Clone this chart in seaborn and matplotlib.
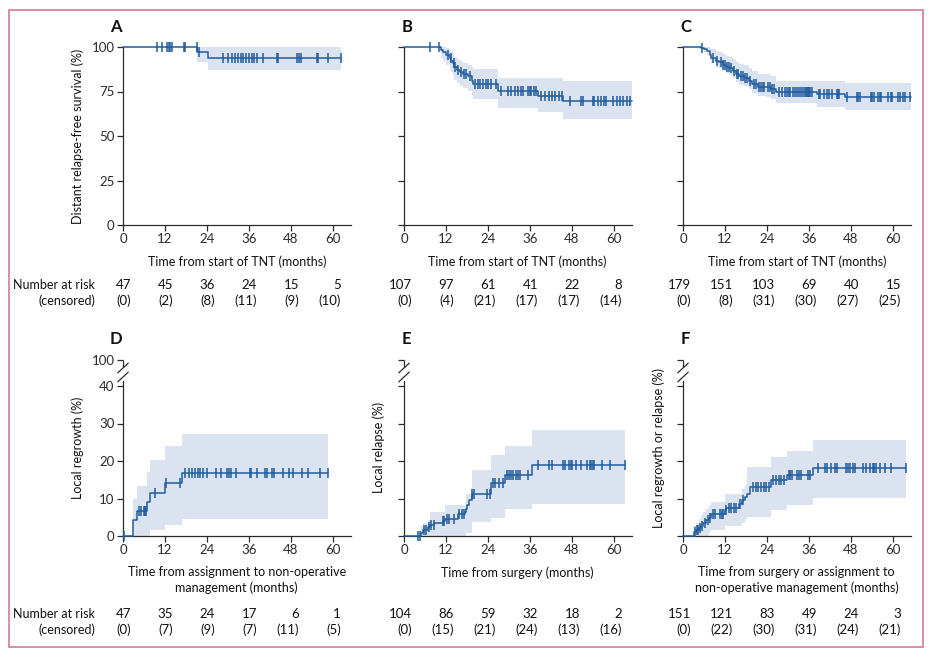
import numpy as np
import matplotlib
matplotlib.use("Agg")
import matplotlib.pyplot as plt
import matplotlib.transforms as mtransforms
from matplotlib.patches import Rectangle
import seaborn as sns

# ---------------- data ----------------
x_ticks = [0, 12, 24, 36, 48, 60]

# A: distant relapse-free survival
A_t = [0, 21.2, 24.4]
A_s = [100, 97.4, 94.0]
A_lo = [100, 91.7, 87.0]
A_hi = [100, 100, 100]
A_end = 62.3
A_cens = [9.6, 11.2, 12.5, 13.0, 13.4, 14.1, 17.3, 17.6, 21.0, 21.6,
          28.7, 29.9, 31.2, 32.0, 32.8, 33.6, 34.4, 35.1, 36.0, 36.8, 37.4,
          38.4, 40.1, 44.1, 44.4, 49.6, 50.3, 50.8, 55.3, 55.8, 58.7, 62.3]
A_risk = ["47", "45", "36", "24", "15", "5"]
A_cnsr = ["(0)", "(2)", "(8)", "(11)", "(9)", "(10)"]

# B
B_t = [0, 10.5, 11.2, 12.0, 13.0, 13.5, 14.0, 14.4, 15.2, 15.9, 16.9, 18.3, 19.3, 19.8, 26.8, 38.3, 45.5]
B_s = [100, 98.1, 97.2, 95.3, 93.8, 92.4, 91.1, 88.6, 87.1, 85.8, 84.8, 83.5, 81.1, 79.2, 75.5, 72.5, 69.8]
B_lo = [100, 94.0, 92.0, 90.0, 88.0, 86.0, 84.5, 81.5, 80.0, 78.0, 77.0, 75.5, 73.0, 71.0, 66.0, 63.3, 59.7]
B_hi = [100, 100, 100, 99.5, 98.5, 97.5, 96.5, 94.5, 93.5, 92.0, 91.0, 90.0, 88.5, 87.5, 82.7, 82.7, 81.0]
B_end = 65.0
B_cens = [7.4, 10.0, 12.5, 13.3, 14.2, 14.7, 15.5, 16.3, 17.0, 17.6, 18.8,
          20.3, 21.0, 21.8, 22.5, 23.3, 24.0, 24.8, 26.2,
          27.8, 29.8, 30.7, 31.8, 32.7, 33.5, 34.1, 35.4, 35.9, 36.4, 37.1, 37.6,
          39.1, 40.3, 41.3, 42.2, 43.2, 44.2, 45.2,
          47.3, 50.7, 51.2, 54.0, 54.4, 55.4, 56.2, 57.2, 57.6, 59.8, 60.8, 61.8, 62.7, 63.7, 64.7]
B_risk = ["107", "97", "61", "41", "22", "8"]
B_cnsr = ["(0)", "(4)", "(21)", "(17)", "(17)", "(14)"]

# C
C_t = [0, 5.0, 6.1, 6.8, 7.6, 8.1, 9.5, 10.4, 11.3, 12.3, 13.2, 14.2, 15.1, 16.1, 17.5, 18.9,
       19.8, 21.3, 23.6, 25.0, 26.5, 38.3, 46.3]
C_s = [100, 99.5, 99.0, 97.7, 95.3, 94.1, 92.4, 91.5, 90.0, 89.0, 88.1, 86.7, 84.8, 83.5, 82.8, 81.1,
       79.2, 77.8, 77.3, 76.3, 74.8, 73.6, 72.0]
C_lo = [100, 98.5, 97.3, 95.5, 92.5, 91.2, 89.0, 88.0, 86.3, 85.2, 84.0, 82.4, 80.4, 78.9, 78.0, 76.2,
        74.0, 72.5, 71.8, 70.6, 68.4, 66.5, 64.4]
C_hi = [100, 100, 100, 100, 99.3, 98.8, 97.6, 97.0, 95.8, 95.0, 94.2, 93.0, 91.5, 90.5, 89.8, 88.3,
        86.6, 85.0, 84.6, 83.8, 81.0, 80.7, 79.7]
C_end = 65.0
C_cens = [5.4, 8.5, 9.8, 10.8, 11.5, 12.0, 12.6, 13.0, 13.6, 14.5, 15.5, 15.8, 16.5, 17.0, 17.8,
          18.3, 19.2, 20.2, 20.8, 21.8, 22.3, 22.8, 23.2, 24.2, 24.8, 25.5, 26.0,
          27.4, 28.4, 29.0, 29.8, 30.2, 30.7, 31.4, 31.9, 32.6, 33.1, 33.8, 34.3, 34.8, 35.2,
          35.4, 35.7, 36.1, 36.4, 36.9,
          38.8, 39.2, 40.4, 41.1, 41.8, 42.5, 44.0, 44.4, 44.7,
          46.8, 49.8, 50.1, 50.6, 53.6, 54.0, 54.5, 55.8, 56.2, 56.7, 58.6, 59.3, 59.7,
          61.4, 62.1, 62.9, 63.5, 64.9]
C_risk = ["179", "151", "103", "69", "40", "15"]
C_cnsr = ["(0)", "(8)", "(31)", "(30)", "(27)", "(25)"]

# D: local regrowth
D_t = [0, 2.8, 4.0, 6.9, 7.8, 12.1, 16.9]
D_s = [0, 4.4, 6.6, 9.1, 11.5, 14.1, 16.8]
D_lo = [0, 0, 0, 0, 1.5, 2.9, 4.6]
D_hi = [0, 10.0, 13.4, 17.0, 20.4, 23.9, 27.3]
D_end = 58.6
D_cens = [0.2, 4.5, 5.2, 6.0, 6.4, 6.6, 9.0, 12.3, 16.4, 17.7, 18.9, 19.8, 20.6, 21.4, 22.1,
          22.9, 24.1, 26.7, 28.1, 29.6, 30.2, 30.9, 32.3, 36.4, 36.7, 38.3, 40.6, 41.1, 42.7,
          43.0, 45.8, 47.3, 48.7, 51.0, 52.9, 56.2, 58.6]
D_risk = ["47", "35", "24", "17", "6", "1"]
D_cnsr = ["(0)", "(7)", "(9)", "(7)", "(11)", "(5)"]

# E: local relapse
E_t = [0, 4.8, 5.4, 6.8, 7.5, 8.7, 11.0, 11.8, 15.3, 17.3, 17.7, 18.1, 18.6, 19.3, 24.9, 28.9, 36.6]
E_s = [0, 0.9, 1.7, 2.4, 2.9, 3.5, 4.0, 4.6, 5.8, 6.3, 7.3, 8.4, 9.5, 11.3, 14.1, 16.2, 18.9]
E_lo = [0, 0, 0, 0, 0, 0, 0, 0, 0, 0, 0.8, 0.8, 0.8, 3.7, 4.9, 7.1, 8.5]
E_hi = [0, 2.8, 3.5, 4.2, 6.4, 6.4, 6.4, 8.2, 8.2, 8.2, 11.3, 11.3, 11.3, 17.7, 21.5, 23.9, 28.2]
E_end = 63.1
E_cens = [4.0, 4.5, 5.6, 6.3, 7.2, 7.8, 8.5, 11.1, 11.5, 12.2, 12.9, 14.3, 15.6, 16.7, 17.2,
          19.5, 20.0, 23.7, 24.6, 25.3, 26.0, 27.0, 28.4, 29.3, 30.0, 30.6, 31.1, 32.0, 32.5,
          33.1, 35.4,
          38.2, 41.5, 42.2, 45.5, 45.9, 47.1, 47.6, 48.1, 49.0, 50.7, 52.3, 53.0, 53.5, 53.9,
          54.4, 56.5, 58.8, 63.1]
E_risk = ["104", "86", "59", "32", "18", "2"]
E_cnsr = ["(0)", "(15)", "(21)", "(24)", "(13)", "(16)"]

# F: local regrowth or relapse
F_t = [0, 3.0, 3.75, 4.5, 5.2, 5.8, 6.6, 7.5, 8.0, 12.0, 12.4, 16.0, 16.9, 17.6, 18.3, 19.2,
       25.1, 29.8, 37.0]
F_s = [0, 1.1, 1.7, 2.2, 2.8, 3.5, 4.2, 4.9, 6.0, 6.9, 7.6, 8.6, 9.5, 10.4, 11.3, 13.1,
       14.9, 16.4, 18.2]
F_lo = [0, 0, 0, 0, 0, 0, 0, 1.0, 1.7, 2.8, 2.8, 2.8, 3.5, 4.5, 5.1, 5.1, 6.9, 8.2, 10.1]
F_hi = [0, 2.8, 3.5, 4.6, 5.5, 6.5, 7.3, 8.3, 9.1, 11.3, 11.3, 11.3, 12.5, 13.5, 18.4, 18.4,
        21.1, 22.7, 25.5]
F_end = 63.7
F_cens = [3.4, 4.0, 4.3, 4.8, 5.5, 6.2, 7.0, 7.8, 8.5, 9.2, 10.5, 11.0, 11.5, 12.3, 13.0,
          13.6, 14.5, 15.2, 16.4, 17.2, 20.0, 20.8, 21.5, 22.3, 23.0, 23.8, 24.5, 25.8,
          26.5, 27.3, 28.0, 28.8, 30.2, 30.7, 31.2, 32.5, 33.2, 33.8, 35.8, 36.3, 38.7,
          40.5, 41.0, 42.2, 43.5, 44.0, 46.7, 47.2, 47.7, 48.5, 49.1, 51.5, 52.3, 53.5,
          54.2, 54.6, 55.1, 56.3, 57.6, 59.4, 63.7]
F_risk = ["151", "121", "83", "49", "24", "3"]
F_cnsr = ["(0)", "(22)", "(30)", "(31)", "(24)", "(21)"]

top_yticks = [0, 25, 50, 75, 100]
bot_yticks = [0, 10, 20, 30, 40]
bot_ytop_label = "100"

# ---------------- style ----------------
sns.set_theme(style="ticks")
plt.rcParams['font.family'] = ['Lato', 'DejaVu Sans']
plt.rcParams['font.size'] = 9
plt.rcParams['axes.linewidth'] = 0.9

BLUE = '#1f5c9e'
FILL = '#dce3f0'
DARK = '#2b2b2b'
TXT = '#111111'
FS_TICK = 9.5
FS = 9
W, H = 940, 655

fig = plt.figure(figsize=(W / 100, H / 100), dpi=100)
fig.patch.set_facecolor('white')
fig.patches.append(Rectangle((9 / W, 1 - 647 / H), 914 / W, 637 / H, transform=fig.transFigure,
                             fill=False, edgecolor='#d9839d', lw=1.3))


def add_ax(left, top, right, bottom):
    return fig.add_axes([left / W, 1 - bottom / H, (right - left) / W, (bottom - top) / H])


def draw_km(ax, t, s, lo, hi, end, cens):
    t = np.asarray(t, float)
    s = np.asarray(s, float)
    xs = np.append(t, end)
    ax.fill_between(xs, np.append(lo, lo[-1]), np.append(hi, hi[-1]), step='post',
                    color=FILL, lw=0, zorder=1)
    sns.lineplot(x=xs, y=np.append(s, s[-1]), drawstyle='steps-post', estimator=None,
                 sort=False, color=BLUE, lw=1.1, ax=ax, zorder=3, clip_on=False)
    cens = np.asarray(cens, float)
    idx = np.searchsorted(t, cens, side='right') - 1
    ax.plot(cens, s[idx], ls='none', marker='|', ms=7, mew=1.1, color=BLUE, zorder=4,
            clip_on=False)


def style_ax(ax):
    sns.despine(ax=ax)
    ax.tick_params(direction='out', length=4, width=0.9, colors=DARK, labelsize=FS_TICK, pad=2)
    ax.spines['left'].set_color(DARK)
    ax.spines['bottom'].set_color(DARK)
    ax.set_xlim(0, 65)
    ax.set_xticks(x_ticks)
    ax.set_facecolor('none')


def risk_table(ax, risk, cnsr, y1, y2, show_label):
    tr = mtransforms.blended_transform_factory(ax.transData, fig.transFigure)
    for xt, r, c in zip(x_ticks, risk, cnsr):
        ax.text(xt + 2.3, 1 - y1 / H, r, transform=tr, ha='right', va='center', fontsize=FS_TICK,
                color=TXT)
        ax.text(xt + 2.3, 1 - y2 / H, c, transform=tr, ha='right', va='center', fontsize=FS_TICK,
                color=TXT)
    if show_label:
        fig.text(95 / W, 1 - y1 / H, "Number at risk", ha='right', va='center', fontsize=FS,
                 color=TXT)
        fig.text(95 / W, 1 - y2 / H, "(censored)", ha='right', va='center', fontsize=FS,
                 color=TXT)


lefts = [123, 404, 683]
width = 227.5

# ---------------- top row ----------------
top_data = [
    ("A", A_t, A_s, A_lo, A_hi, A_end, A_cens, A_risk, A_cnsr),
    ("B", B_t, B_s, B_lo, B_hi, B_end, B_cens, B_risk, B_cnsr),
    ("C", C_t, C_s, C_lo, C_hi, C_end, C_cens, C_risk, C_cnsr),
]
for i, (lab, t, s, lo, hi, end, cens, risk, cnsr) in enumerate(top_data):
    ax = add_ax(lefts[i], 47, lefts[i] + width, 225)
    draw_km(ax, t, s, lo, hi, end, cens)
    style_ax(ax)
    ax.set_ylim(0, 100)
    ax.set_yticks(top_yticks)
    if i == 0:
        ax.set_ylabel("Distant relapse-free survival (%)", fontsize=FS, color=TXT)
        ax.yaxis.set_label_coords(-0.17, 0.5)
    else:
        ax.set_yticklabels([])
    ax.set_xlabel("Time from start of TNT (months)", fontsize=FS, color=TXT, labelpad=7)
    ax.text(-0.057 if i == 0 else -0.01, 1.112, lab, transform=ax.transAxes, fontsize=12,
            fontweight='bold', ha='left', va='center', color=TXT)
    risk_table(ax, risk, cnsr, 285, 301, i == 0)

# ---------------- bottom row ----------------
bot_data = [
    ("D", D_t, D_s, D_lo, D_hi, D_end, D_cens, D_risk, D_cnsr,
     "Local regrowth (%)", "Time from assignment to non-operative\nmanagement (months)", -0.17),
    ("E", E_t, E_s, E_lo, E_hi, E_end, E_cens, E_risk, E_cnsr,
     "Local relapse (%)", "Time from surgery (months)", -0.084),
    ("F", F_t, F_s, F_lo, F_hi, F_end, F_cens, F_risk, F_cnsr,
     "Local regrowth or relapse (%)", "Time from surgery or assignment to\nnon-operative management (months)", -0.079),
]
YTOP = 46.9
for i, (lab, t, s, lo, hi, end, cens, risk, cnsr, ylab, xlab, ylx) in enumerate(bot_data):
    ax = add_ax(lefts[i], 536 - 47 * 3.75, lefts[i] + width, 536)
    draw_km(ax, t, s, lo, hi, end, cens)
    style_ax(ax)
    ax.set_ylim(0, 47)
    ax.set_yticks(bot_yticks + [YTOP])
    if i == 0:
        ax.set_yticklabels([str(v) for v in bot_yticks] + [bot_ytop_label])
    else:
        ax.set_yticklabels([])
    ax.spines['left'].set_bounds(0, 41.3)
    # upper stub of broken axis and the break marks
    ax.plot([0, 0], [45.2, YTOP], color=DARK, lw=0.9, clip_on=False, zorder=5,
            solid_capstyle='butt')
    for yb in (41.1, 43.5):
        ax.plot([-1.5, 1.5], [yb, yb + 2.6], color=DARK, lw=0.9, clip_on=False, zorder=5)
    ax.set_ylabel(ylab, fontsize=FS, color=TXT)
    ax.yaxis.set_label_coords(ylx, 0.5)
    ax.set_xlabel(xlab, fontsize=FS, color=TXT, labelpad=7, linespacing=1.35)
    ax.text(-0.057 if i == 0 else -0.01, 1.12, lab, transform=ax.transAxes, fontsize=12,
            fontweight='bold', ha='left', va='center', color=TXT)
    risk_table(ax, risk, cnsr, 614, 630, i == 0)

fig.savefig("out.png", dpi=100, facecolor='white')
